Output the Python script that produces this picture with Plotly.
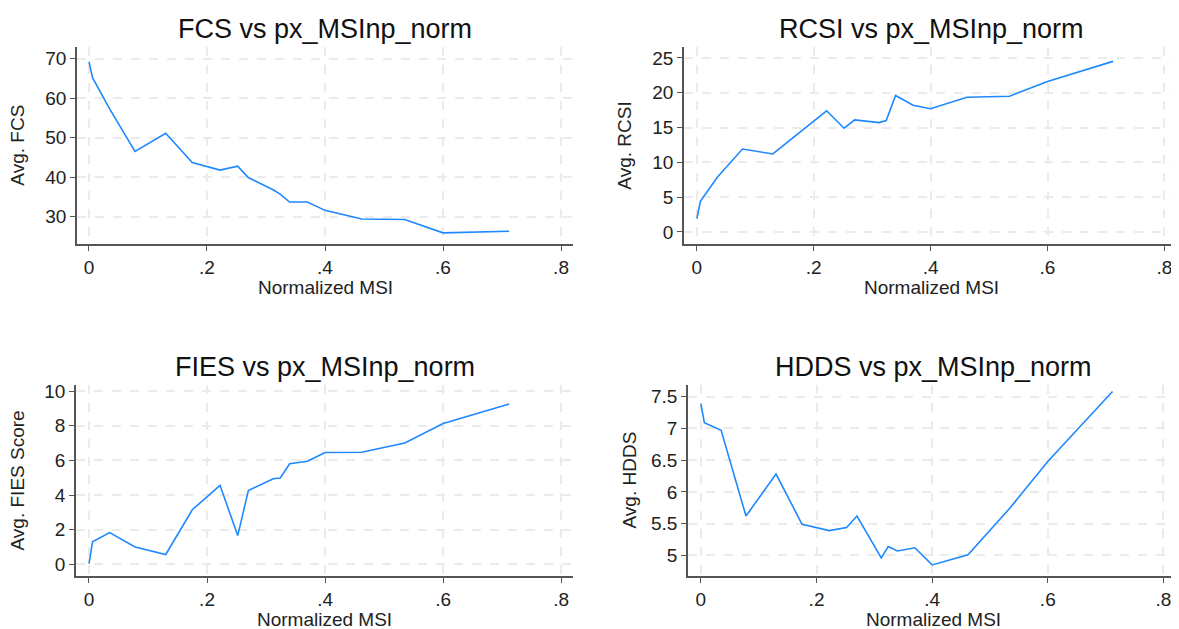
import plotly.graph_objects as go

W, H = 1179, 629
OFF = 8  # browser default body margin
FW, FH = W - OFF, H - OFF

# ---- data ----
msi = [0, 0.006, 0.035, 0.078, 0.13, 0.175, 0.222, 0.252, 0.27, 0.312, 0.324,
       0.34, 0.37, 0.40, 0.462, 0.535, 0.60, 0.712]
fcs = [69.2, 65.2, 57.3, 46.5, 51.1, 43.7, 41.8, 42.8, 39.9, 36.8, 35.7,
       33.7, 33.7, 31.6, 29.4, 29.3, 25.9, 26.3]
rcsi = [1.9, 4.4, 7.85, 11.9, 11.2, 14.2, 17.4, 14.9, 16.1, 15.7, 16.0,
        19.6, 18.2, 17.7, 19.35, 19.5, 21.6, 24.5]
fies = [0.04, 1.3, 1.83, 1.0, 0.57, 3.15, 4.56, 1.66, 4.26, 4.94, 4.98,
        5.8, 5.95, 6.45, 6.47, 7.0, 8.13, 9.25]
hdds = [7.39, 7.09, 6.97, 5.62, 6.28, 5.49, 5.39, 5.44, 5.62, 4.96, 5.14,
        5.07, 5.12, 4.85, 5.01, 5.75, 6.48, 7.58]

x_tickvals = [0, 0.2, 0.4, 0.6, 0.8]
x_ticktext = ["0", ".2", ".4", ".6", ".8"]

titles = ["FCS vs px_MSInp_norm", "RCSI vs px_MSInp_norm",
          "FIES vs px_MSInp_norm", "HDDS vs px_MSInp_norm"]
ytitles = ["Avg. FCS", "Avg. RCSI", "Avg. FIES Score", "Avg. HDDS"]
xtitle = "Normalized MSI"

y_ticks = [[30, 40, 50, 60, 70], [0, 5, 10, 15, 20, 25],
           [0, 2, 4, 6, 8, 10], [5, 5.5, 6, 6.5, 7, 7.5]]
y_ticktext = [None, None, None, ["5", "5.5", "6", "6.5", "7", "7.5"]]

series = [fcs, rcsi, fies, hdds]

# panel boxes in page pixels: (left, right, top, bottom)
boxes = [(77, 573, 43, 242),
         (684, 1179, 43, 242),
         (76, 573, 383, 576),
         (688, 1179, 383, 576)]
xranges = [[-0.0203, 0.8203], [-0.022, 0.825], [-0.022, 0.820], [-0.0223, 0.827]]
yranges = [[22.96, 73.0], [-1.81, 26.6], [-0.69, 10.37], [4.67, 7.69]]

FONT = "Liberation Sans, Arial, sans-serif"
LINE = "#1e88ff"
AX = "#555555"
GRID = "#ebebeb"

fig = go.Figure()
annotations = []


def px(xp):
    return (xp - OFF) / FW


def py(yp):
    return 1 - (yp - OFF) / FH


for i in range(4):
    n = "" if i == 0 else str(i + 1)
    fig.add_trace(go.Scatter(x=msi, y=series[i], mode="lines",
                             line=dict(color=LINE, width=1.6),
                             xaxis="x" + n, yaxis="y" + n, showlegend=False))
    l, r, t, b = boxes[i]
    xa = dict(domain=[max(px(l), 0), min(px(r), 1)], range=xranges[i], anchor="y" + n,
              tickvals=x_tickvals, ticktext=x_ticktext,
              showline=True, linecolor=AX, linewidth=1.5,
              ticks="outside", ticklen=5, tickcolor=AX, tickwidth=1.2,
              showgrid=True, gridcolor=GRID, gridwidth=1.5, griddash="dash",
              ticklabeloverflow="allow",
              zeroline=False, tickfont=dict(size=19, color="#222", family=FONT))
    ya = dict(domain=[max(py(b), 0), min(py(t), 1)], range=yranges[i], anchor="x" + n,
              tickvals=y_ticks[i],
              showline=True, linecolor=AX, linewidth=1.5,
              ticks="outside", ticklen=5, tickcolor=AX, tickwidth=1.2,
              showgrid=True, gridcolor=GRID, gridwidth=1.5, griddash="dash",
              zeroline=False, tickfont=dict(size=19, color="#222", family=FONT))
    if y_ticktext[i] is not None:
        ya["ticktext"] = y_ticktext[i]
    fig.update_layout(**{"xaxis" + n: xa, "yaxis" + n: ya})

    cx = (l + r) / 2
    annotations.append(dict(text=titles[i], x=px(cx), y=py(t - 18),
                            xref="paper", yref="paper", showarrow=False,
                            xanchor="center", yanchor="middle",
                            font=dict(size=27, color="#111", family=FONT)))
    annotations.append(dict(text=xtitle, x=px(cx), y=py(b + 43),
                            xref="paper", yref="paper", showarrow=False,
                            xanchor="center", yanchor="middle",
                            font=dict(size=19, color="#222", family=FONT)))
    annotations.append(dict(text=ytitles[i], x=px(l - 59), y=py((t + b) / 2),
                            xref="paper", yref="paper", showarrow=False,
                            xanchor="center", yanchor="middle", textangle=-90,
                            font=dict(size=19, color="#222", family=FONT)))

fig.update_layout(width=FW, height=FH, margin=dict(l=0, r=0, t=0, b=0),
                  paper_bgcolor="white", plot_bgcolor="white",
                  annotations=annotations, font=dict(family=FONT))

fig.write_html("out.html")
